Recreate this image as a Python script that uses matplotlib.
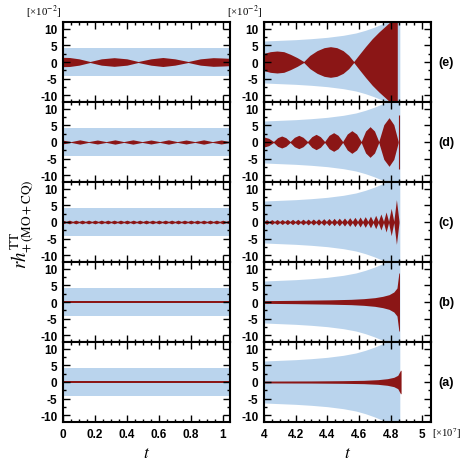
import matplotlib
matplotlib.use("Agg")
import matplotlib.pyplot as plt
import numpy as np
from matplotlib.ticker import MultipleLocator

plt.rcParams["font.family"] = ["Liberation Sans", "DejaVu Sans"]
plt.rcParams["mathtext.fontset"] = "stix"

BLUE = "#bad4ed"
RED = "#8b1616"

panel_labels = ["(e)", "(d)", "(c)", "(b)", "(a)"]
left_xticks = [0, 0.2, 0.4, 0.6, 0.8, 1.0]
left_xticklabels = ["0", "0.2", "0.4", "0.6", "0.8", "1"]
right_xticks = [4.0, 4.2, 4.4, 4.6, 4.8, 5.0]
right_xticklabels = ["4", "4.2", "4.4", "4.6", "4.8", "5"]
yticks = [-10, -5, 0, 5, 10]
yticklabels = ["-10", "-5", "0", "5", "10"]

# ---- envelopes (amplitude in units of 1e-2) ----
# light blue carrier band
blue_left_t = [0.0, 1.045]
blue_left_amp = [4.2, 4.2]
blue_right_t = [4.0, 4.1, 4.2, 4.3, 4.4, 4.5, 4.58, 4.64, 4.70, 4.74, 4.77, 4.80, 4.858, 4.858]
blue_right_amp = [6.3, 6.5, 6.7, 7.0, 7.4, 8.0, 8.7, 9.5, 10.5, 11.3, 12.0, 13.0, 16.0, 0.0]

# (e) left
e_left_t = [0.0, 0.04, 0.10, 0.169, 0.24, 0.32, 0.40, 0.47, 0.55, 0.625, 0.70, 0.783, 0.86, 0.94, 1.00, 1.045]
e_left_amp = [1.4, 1.35, 0.95, 0.15, 0.95, 1.3, 0.95, 0.15, 0.95, 1.35, 0.95, 0.15, 0.95, 1.3, 1.2, 1.1]
# (e) right
e_right_t = [4.0, 4.04, 4.082, 4.125, 4.167, 4.21, 4.251, 4.29, 4.335, 4.38, 4.42, 4.46, 4.50, 4.535,
             4.567, 4.599, 4.641, 4.684, 4.726, 4.768, 4.80, 4.842, 4.842]
e_right_amp = [2.6, 3.1, 3.3, 3.1, 2.3, 1.3, 0.15, 2.0, 3.4, 4.3, 4.6, 4.3, 3.4, 2.0,
               0.15, 2.1, 4.6, 7.0, 9.0, 10.8, 12.2, 13.0, 0.0]

# (d) left: beat nodes and lobe peaks
d_left_nodes = [-0.06, 0.05, 0.16, 0.27, 0.38, 0.495, 0.605, 0.715, 0.825, 0.935, 1.045]
d_left_peaks = [0.6, 0.65, 0.6, 0.65, 0.65, 0.6, 0.65, 0.6, 0.65, 0.6]
# (d) right
d_right_t = [4.0, 4.03, 4.06, 4.086, 4.112, 4.138, 4.165, 4.192, 4.22, 4.247, 4.275, 4.302, 4.329,
             4.356, 4.383, 4.411, 4.44, 4.468, 4.497, 4.526, 4.555, 4.585, 4.614, 4.642, 4.67,
             4.698, 4.725, 4.757, 4.79, 4.82, 4.848]
d_right_amp = [1.5, 1.1, 0.15, 1.3, 1.8, 1.3, 0.15, 1.4, 2.0, 1.4, 0.15, 1.6, 2.3,
               1.6, 0.15, 2.0, 2.8, 2.0, 0.15, 2.4, 3.4, 2.4, 0.15, 3.3, 4.6,
               3.3, 0.15, 5.2, 7.3, 5.2, 0.15]
d_spike_t = 4.852
d_spike_amp = 8.2

# (c) left
c_left_nodes = [-0.02, 0.02, 0.06, 0.10, 0.14, 0.18, 0.22, 0.26, 0.30, 0.34, 0.38, 0.42, 0.46, 0.50,
                0.54, 0.58, 0.62, 0.66, 0.70, 0.74, 0.78, 0.82, 0.86, 0.90, 0.94, 0.98, 1.02, 1.06]
c_left_peaks = [0.55] * 27
# (c) right
c_right_nodes = [3.967, 4.000, 4.033, 4.066, 4.099, 4.131, 4.164, 4.197, 4.230, 4.263, 4.295, 4.328,
                 4.361, 4.394, 4.427, 4.459, 4.492, 4.525, 4.558, 4.591, 4.623, 4.656, 4.689, 4.722,
                 4.755, 4.787, 4.820, 4.853]
c_right_peaks = [0.7, 0.7, 0.72, 0.75, 0.75, 0.78, 0.8, 0.82, 0.85, 0.88, 0.9, 0.95, 1.0, 1.05,
                 1.1, 1.15, 1.2, 1.3, 1.4, 1.5, 1.6, 1.75, 2.0, 2.4, 3.0, 4.1, 6.7]

# (b)
b_left_t = [0.0, 1.045]
b_left_amp = [0.3, 0.3]
b_right_t = [4.0, 4.2, 4.42, 4.55, 4.63, 4.70, 4.75, 4.79, 4.82, 4.84, 4.852, 4.856, 4.856]
b_right_amp = [0.4, 0.5, 0.65, 0.8, 1.0, 1.3, 1.7, 2.2, 3.0, 4.2, 8.7, 8.7, 0.0]

# (a)
a_left_t = [0.0, 1.045]
a_left_amp = [0.22, 0.22]
a_right_t = [4.0, 4.3, 4.5, 4.63, 4.72, 4.78, 4.82, 4.845, 4.862, 4.866, 4.866]
a_right_amp = [0.28, 0.32, 0.4, 0.5, 0.7, 1.0, 1.4, 2.0, 3.5, 3.5, 0.0]


def beads(nodes, peaks, base):
    t, a = [nodes[0]], [base]
    for n0, n1, p in zip(nodes[:-1], nodes[1:], peaks):
        t += [(n0 + n1) / 2, n1]
        a += [p, base]
    return np.array(t), np.array(a)


def band(ax, t, amp, color):
    t = np.asarray(t, float)
    amp = np.asarray(amp, float)
    ax.fill_between(t, -amp, amp, color=color, lw=0)


def style_axes(ax, right, show_x):
    ax.set_ylim(-12, 12)
    ax.set_xlim((4, 5.055) if right else (0, 1.045))
    ax.set_yticks(yticks)
    ax.set_yticklabels(yticklabels, fontweight="bold", fontsize=8.5)
    ax.yaxis.set_minor_locator(MultipleLocator(2.5))
    if right:
        ax.set_xticks(right_xticks)
        ax.set_xticklabels(right_xticklabels, fontweight="bold", fontsize=8.5)
    else:
        ax.set_xticks(left_xticks)
        ax.set_xticklabels(left_xticklabels, fontweight="bold", fontsize=8.5)
    ax.xaxis.set_minor_locator(MultipleLocator(0.05))
    ax.tick_params(which="both", direction="in", top=True, right=True, width=1.0, pad=4,
                   labelbottom=show_x)
    ax.tick_params(which="major", length=5)
    ax.tick_params(which="minor", length=2.5)
    for s in ax.spines.values():
        s.set_linewidth(1.5)


fig = plt.figure(figsize=(4.64, 4.64), dpi=100)
W, H = 464.0, 464.0
left_x, right_x, col_w = 63, 264, 167
top0, ph = 23, 80

left_data = [
    (e_left_t, e_left_amp),
    beads(d_left_nodes, d_left_peaks, 0.12),
    beads(c_left_nodes, c_left_peaks, 0.2),
    (b_left_t, b_left_amp),
    (a_left_t, a_left_amp),
]
right_data = [
    (e_right_t, e_right_amp),
    (d_right_t, d_right_amp),
    beads(c_right_nodes, c_right_peaks, 0.2),
    (b_right_t, b_right_amp),
    (a_right_t, a_right_amp),
]

for i in range(5):
    top = top0 + i * ph
    y0 = 1 - (top + ph) / H
    axl = fig.add_axes([left_x / W, y0, col_w / W, ph / H])
    axr = fig.add_axes([right_x / W, y0, col_w / W, ph / H])
    band(axl, blue_left_t, blue_left_amp, BLUE)
    band(axr, blue_right_t, blue_right_amp, BLUE)
    band(axl, *left_data[i], RED)
    band(axr, *right_data[i], RED)
    if i == 1:
        axr.vlines(d_spike_t, -d_spike_amp, d_spike_amp, color=RED, lw=0.8)
    style_axes(axl, False, i == 4)
    style_axes(axr, True, i == 4)
    if i == 4:
        axl.set_xlabel("$t$", fontsize=12.5, labelpad=4)
        axr.set_xlabel("$t$", fontsize=12.5, labelpad=4)
    if i == 0:
        for x in (left_x, right_x):
            fig.text(x / W - 0.003, 1 - 12 / H, "[×10$^{-2}$]", ha="right", va="center",
                     fontsize=7.8, family="Liberation Serif")
    fig.text(446 / W, 1 - (top + ph / 2) / H, panel_labels[i], ha="center", va="center",
             fontsize=9, fontweight="bold")

fig.text(432 / W, 1 - 434 / H, "[×10$^{7}$]", ha="left", va="center",
         fontsize=7.6, family="Liberation Serif")
fig.text(22 / W, 1 - 224 / H, r"$rh_{+\,(\mathrm{MO+CQ})}^{\mathrm{TT}}$", rotation=90,
         ha="center", va="center", fontsize=13.5)

fig.savefig("out.png", dpi=100)
